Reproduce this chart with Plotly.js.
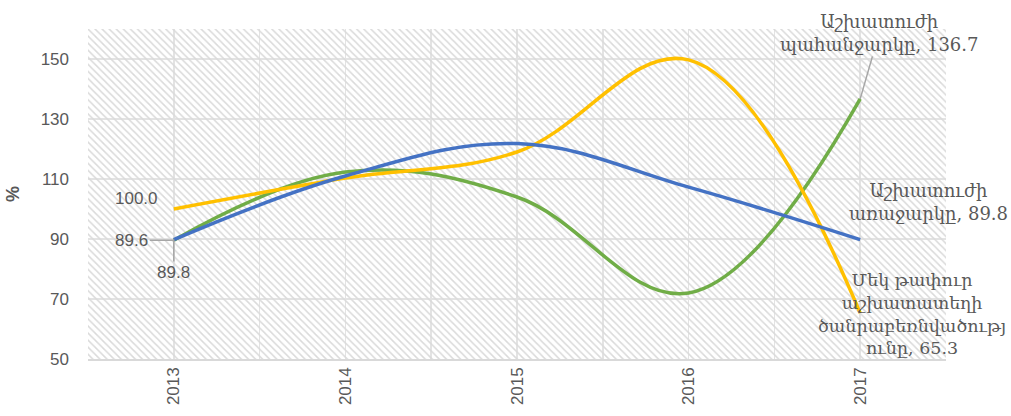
<!DOCTYPE html>
<html>
<head>
<meta charset="utf-8">
<script src="https://cdn.plot.ly/plotly-3.0.1.min.js"></script>
<style>html,body{margin:0;padding:0;background:#fff;}#chart{width:1011px;height:416px;}</style>
</head>
<body>
<div id="chart"></div>
<script>
const years = [2013, 2014, 2015, 2016, 2017];
const supply = [89.8, 111.0, 121.8, 107.3, 89.8];      // Աշխատուժի առաջարկը
const demand = [89.6, 112.3, 104.0, 72.0, 136.7];      // Աշխատուժի պահանջարկը
const load = [100.0, 110.3, 119.0, 149.7, 65.3];       // Մեկ թափուր աշխատատեղի ծանրաբեռնվածություն
const names = ['Աշխատուժի առաջարկը', 'Աշխատուժի պահանջարկը', 'Մեկ թափուր աշխատատեղի ծանրաբեռնվածություն'];
const xRange = [2012.5, 2017.5];
const yRange = [50, 160];

const numFont = 'Liberation Sans, DejaVu Sans, sans-serif';
const armFont = 'DejaVu Serif, serif';
const gray = '#595959';

const hatch = {
  x: [xRange[0], xRange[1], xRange[1], xRange[0], xRange[0]],
  y: [yRange[0], yRange[0], yRange[1], yRange[1], yRange[0]],
  type: 'scatter', mode: 'lines', fill: 'toself',
  fillcolor: 'rgba(255,255,255,0)',
  fillpattern: {shape: '\\', fgcolor: '#dadada', bgcolor: 'rgba(255,255,255,0)', size: 5, solidity: 0.3},
  line: {width: 0}, hoverinfo: 'skip', showlegend: false
};

function series(y, color, name) {
  return {x: years, y: y, name: name, type: 'scatter', mode: 'lines',
    line: {color: color, width: 3.5, shape: 'spline', smoothing: 1.1}, showlegend: false};
}

const traces = [
  hatch,
  series(demand, '#70AD47', names[1]),
  series(load, '#FFC000', names[2]),
  series(supply, '#4472C4', names[0])
];

const lc = '#a6a6a6';
const annotations = [
  {x: years[0], y: load[0], text: load[0].toFixed(1), showarrow: false, xshift: -37, yshift: 11,
   font: {family: numFont, size: 17, color: gray}},
  {x: years[0], y: demand[0], text: demand[0].toFixed(1), showarrow: true, arrowhead: 0, arrowwidth: 1.5, arrowcolor: lc,
   ax: -42, ay: 0, font: {family: numFont, size: 17, color: gray}},
  {x: years[0], y: supply[0], text: supply[0].toFixed(1), showarrow: true, arrowhead: 0, arrowwidth: 1.5, arrowcolor: lc,
   ax: 0, ay: 33, font: {family: numFont, size: 17, color: gray}},
  {x: years[4], y: demand[4], text: 'Աշխատուժի<br>պահանջարկը, ' + demand[4].toFixed(1), showarrow: true, arrowhead: 0,
   arrowwidth: 1.5, arrowcolor: lc, ax: 19, ay: -66, font: {family: armFont, size: 18, color: gray}},
  {x: years[4], y: supply[4], text: 'Աշխատուժի<br>առաջարկը, ' + supply[4].toFixed(1), showarrow: false,
   xshift: 68, yshift: 38, font: {family: armFont, size: 18, color: gray}},
  {x: years[4], y: load[4], text: 'Մեկ թափուր<br>աշխատատեղի<br>ծանրաբեռնվածությ<br>ունը, ' + load[4].toFixed(1), showarrow: false,
   xshift: 52, yshift: -1, font: {family: armFont, size: 17.5, color: gray}}
];

const layout = {
  width: 1011, height: 416,
  margin: {l: 88, r: 65, t: 29, b: 57},
  paper_bgcolor: '#ffffff', plot_bgcolor: '#ffffff',
  showlegend: false,
  xaxis: {
    range: xRange, tickmode: 'array', tickvals: years, ticktext: years.map(String),
    tickangle: -90, tickfont: {family: numFont, size: 17, color: gray},
    showgrid: true, gridcolor: '#e3e3e3', gridwidth: 1.5,
    minor: {tickvals: [2012.5, 2013.5, 2014.5, 2015.5, 2016.5, 2017.5], showgrid: true, gridcolor: '#e3e3e3', gridwidth: 1.5, ticklen: 0},
    showline: true, linecolor: '#d9d9d9', linewidth: 1.5, zeroline: false, ticks: '', fixedrange: true
  },
  yaxis: {
    range: yRange, tick0: 50, dtick: 20, tickfont: {family: numFont, size: 17, color: gray},
    showgrid: true, gridcolor: '#e3e3e3', gridwidth: 1.5, zeroline: false, showline: false, ticks: '',
    ticklabelstandoff: 18,
    title: {text: '<b>%</b>', font: {family: numFont, size: 18, color: gray}, standoff: 16}
  },
  annotations: annotations
};

Plotly.newPlot('chart', traces, layout, {displayModeBar: false, staticPlot: true});
</script>
</body>
</html>
